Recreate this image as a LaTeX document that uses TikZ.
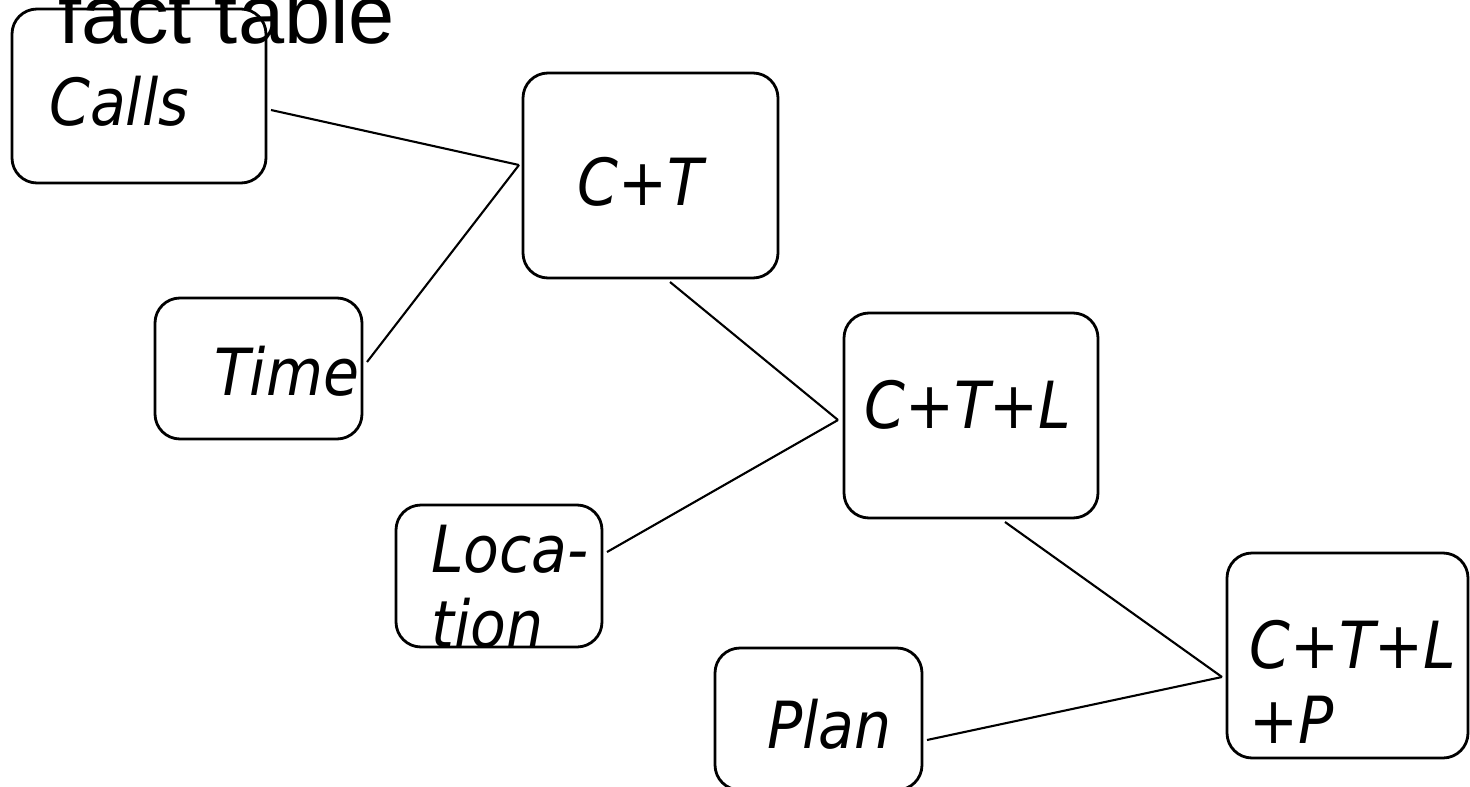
\documentclass[tikz,border=0pt]{standalone}
\usepackage{fontspec}
\usepackage{tikz}
\usetikzlibrary{calc}
\usetikzlibrary{positioning}
\newfontfamily\titlefont{Liberation Sans}
\newfontfamily\boxfont{DejaVu Sans Condensed Oblique}

\begin{document}
\begin{tikzpicture}[x=1pt,y=-1pt]
	\begin{scope}[line join=round,
		cube/.style={draw, line width=2.8pt, rounded corners=25pt, inner sep=0pt, outer sep=0pt},
		cubetext/.style={anchor=base west, inner sep=0pt, align=left, font=\boxfont\fontsize{65}{75}\selectfont},
		link/.style={line width=2.1pt}]

	\useasboundingbox (0,0) rectangle (1470,787);

	% boxes
	\node[cube, minimum width=254pt, minimum height=174pt] (calls) at (139,96) {};
	\node[cube, minimum width=255pt, minimum height=205pt] (ct) at (650.5,175.5) {};
	\node[cube, minimum width=207pt, minimum height=141pt] (time) at (258.5,368.5) {};
	\node[cube, minimum width=254pt, minimum height=205pt] (ctl) at (971,415.5) {};
	\node[cube, minimum width=206pt, minimum height=142pt] (loc) at (499,576) {};
	\node[cube, minimum width=207pt, minimum height=142pt] (plan) at (818.5,719) {};
	\node[cube, minimum width=241pt, minimum height=205pt] (ctlp) at (1347.5,655.5) {};

	% texts (base of a two-line text is its last line)
	\node[anchor=base west, inner sep=0pt, font=\titlefont\fontsize{83}{90}\selectfont] (title) at (58,43) {fact table};
	\node[cubetext] (callstxt) at (49,125) {Calls};
	\node[cubetext] (cttxt) at (577,205) {C+T};
	\node[cubetext] (timetxt) at (214,395) {Time};
	\node[cubetext] (ctltxt) at (864,428) {C+T+L};
	\node[cubetext] (loctxt) at (431,647) {Loca-\\tion};
	\node[cubetext] (plantxt) at (767,748) {Plan};
	\node[cubetext] (ctlptxt) at (1249,743) {C+T+L\\+P};

	% links
	\draw[link] ($(calls.east)+(5,14)$) -- ($(ct.west)+(-4,-10.5)$);
	\draw[link] ($(time.east)+(5,-6.5)$) -- ($(ct.west)+(-4,-10.5)$);
	\draw[link] ($(ct.south)+(19.5,4)$) -- ($(ctl.west)+(-6,4.5)$);
	\draw[link] ($(loc.east)+(5,-24)$) -- ($(ctl.west)+(-6,4.5)$);
	\draw[link] ($(ctl.south)+(34,4)$) -- ($(ctlp.west)+(-5,21.5)$);
	\draw[link] ($(plan.east)+(5,21)$) -- ($(ctlp.west)+(-5,21.5)$);

	\end{scope}
\end{tikzpicture}
\end{document}
